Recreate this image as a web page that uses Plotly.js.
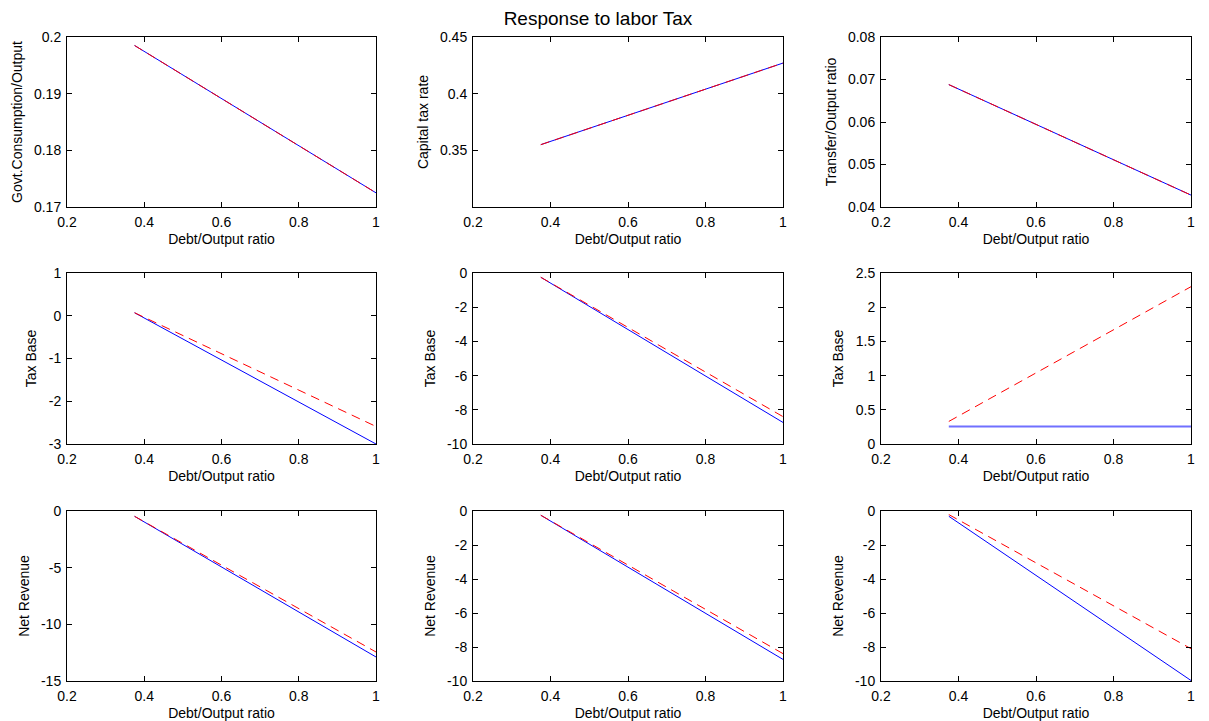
<!DOCTYPE html>
<html>
<head>
<meta charset="utf-8">
<script src="https://cdn.plot.ly/plotly-3.0.1.min.js"></script>
<style>
  html, body { margin: 0; padding: 0; background: #ffffff; }
  #chart { width: 1209px; height: 721px; }
</style>
</head>
<body>
<div id="chart"></div>
<script>
// ---------- data ----------
const debtRatio = [0.375, 1.0];

const govConsBlue   = [0.1985, 0.1725];
const govConsRed    = [0.1985, 0.1725];
const capTaxBlue    = [0.355, 0.427];
const capTaxRed     = [0.355, 0.427];
const transferBlue  = [0.0688, 0.0428];
const transferRed   = [0.0688, 0.0428];

const taxBase1Blue  = [0.07, -3.0];
const taxBase1Red   = [0.07, -2.59];
const taxBase2Blue  = [-0.25, -8.74];
const taxBase2Red   = [-0.25, -8.4];
const taxBase3Blue  = [0.255, 0.255];
const taxBase3Red   = [0.33, 2.3];

const netRev1Blue   = [-0.47, -12.88];
const netRev1Red    = [-0.47, -12.44];
const netRev2Blue   = [-0.25, -8.73];
const netRev2Red    = [-0.25, -8.39];
const netRev3Blue   = [-0.31, -9.97];
const netRev3Red    = [-0.21, -8.1];

const yTitles = ['Govt.Consumption/Output', 'Capital tax rate', 'Transfer/Output ratio',
                 'Tax Base', 'Tax Base', 'Tax Base',
                 'Net Revenue', 'Net Revenue', 'Net Revenue'];
const xTitle = 'Debt/Output ratio';
const chartTitle = 'Response to labor Tax';

const blueSeries = [govConsBlue, capTaxBlue, transferBlue, taxBase1Blue, taxBase2Blue, taxBase3Blue, netRev1Blue, netRev2Blue, netRev3Blue];
const redSeries  = [govConsRed, capTaxRed, transferRed, taxBase1Red, taxBase2Red, taxBase3Red, netRev1Red, netRev2Red, netRev3Red];

const yRanges = [[0.17, 0.2], [0.3, 0.45], [0.04, 0.08], [-3, 1], [-10, 0], [0, 2.5], [-15, 0], [-10, 0], [-10, 0]];
const yTickVals = [
  [0.17, 0.18, 0.19, 0.2],
  [0.35, 0.4, 0.45],
  [0.04, 0.05, 0.06, 0.07, 0.08],
  [-3, -2, -1, 0, 1],
  [-10, -8, -6, -4, -2, 0],
  [0, 0.5, 1, 1.5, 2, 2.5],
  [-15, -10, -5, 0],
  [-10, -8, -6, -4, -2, 0],
  [-10, -8, -6, -4, -2, 0]
];
const xTickVals = [0.2, 0.4, 0.6, 0.8, 1];

// ---------- layout geometry (pixels) ----------
const W = 1209, H = 721;
const cols = [[67, 376], [473, 783], [881, 1191]];
const rows = [[37, 207], [273, 444], [511, 681]];

const font = 'Liberation Sans, Arial, sans-serif';
const label = v => String(v); // plain hyphen-minus like the reference
const traces = [];
const layout = {
  width: W, height: H,
  margin: {l: 0, r: 0, t: 0, b: 0},
  paper_bgcolor: '#ffffff',
  plot_bgcolor: '#ffffff',
  showlegend: false,
  font: {family: font, size: 14, color: '#000000'},
  title: {
    text: chartTitle,
    font: {family: font, size: 19, color: '#000000'},
    x: 598 / W, xref: 'paper', xanchor: 'center',
    y: 1 - 18 / H, yref: 'container', yanchor: 'middle'
  }
};

for (let i = 0; i < 9; i++) {
  const r = Math.floor(i / 3), c = i % 3;
  const n = i === 0 ? '' : String(i + 1);
  const xa = 'xaxis' + n, ya = 'yaxis' + n;
  const common = {
    showline: true, linecolor: '#000000', linewidth: 1,
    mirror: 'allticks', ticks: 'inside', ticklen: 5, tickwidth: 1, tickcolor: '#000000',
    showgrid: false, zeroline: false, fixedrange: true,
    tickfont: {family: font, size: 14, color: '#000000'}
  };
  layout[xa] = Object.assign({}, common, {
    domain: [cols[c][0] / W, cols[c][1] / W],
    anchor: 'y' + n,
    range: [0.2, 1], tickmode: 'array', tickvals: xTickVals, ticktext: xTickVals.map(label),
    ticklabelstandoff: 2,
    title: {text: xTitle, font: {family: font, size: 14, color: '#000000'}, standoff: 5}
  });
  layout[ya] = Object.assign({}, common, {
    domain: [1 - rows[r][1] / H, 1 - rows[r][0] / H],
    anchor: 'x' + n,
    range: yRanges[i], tickmode: 'array', tickvals: yTickVals[i], ticktext: yTickVals[i].map(label),
    ticklabelstandoff: 2,
    title: {text: yTitles[i], font: {family: font, size: 14, color: '#000000'}, standoff: 8}
  });
  const isFlat = blueSeries[i][0] === blueSeries[i][1];
  traces.push({
    type: 'scatter', mode: 'lines', x: debtRatio, y: blueSeries[i],
    xaxis: 'x' + n, yaxis: 'y' + n,
    line: {color: isFlat ? '#7070ff' : '#0000ff', width: isFlat ? 2 : 1},
    hoverinfo: 'skip'
  });
  traces.push({
    type: 'scatter', mode: 'lines', x: debtRatio, y: redSeries[i],
    xaxis: 'x' + n, yaxis: 'y' + n,
    line: {color: '#ff0000', width: 1, dash: '9px,6px'},
    hoverinfo: 'skip'
  });
}

Plotly.newPlot('chart', traces, layout, {staticPlot: true, displayModeBar: false});
</script>
</body>
</html>
